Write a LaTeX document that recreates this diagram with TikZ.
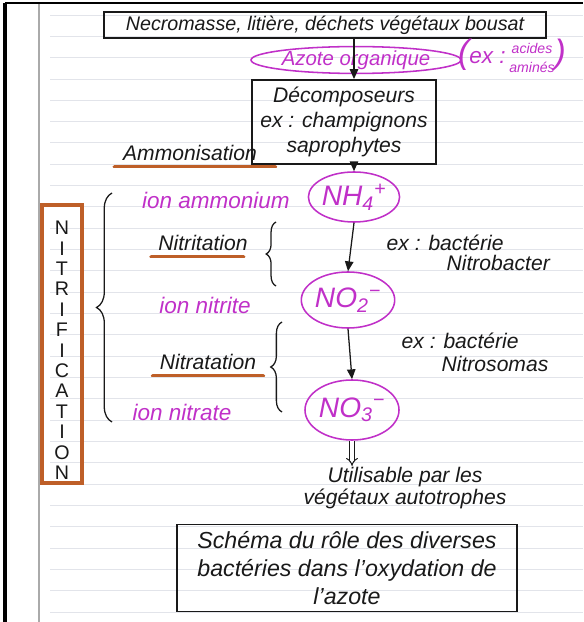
\documentclass[tikz,border=0pt]{standalone}
\usepackage{fontspec}
\setmainfont{Liberation Sans}
\usetikzlibrary{shapes.geometric}
\usetikzlibrary{arrows.meta}
\usetikzlibrary{decorations.pathreplacing}
\definecolor{ink}{RGB}{25,25,25}
\definecolor{pinkink}{RGB}{192,48,200}
\definecolor{orangeink}{RGB}{190,95,40}
\definecolor{ruling}{RGB}{226,228,234}
\definecolor{margin}{RGB}{170,170,170}
\tikzset{
  hand/.style={font=\fontsize{15}{18}\selectfont\itshape, text=ink, inner sep=1pt},
  pinkhand/.style={hand, text=pinkink, font=\fontsize{16}{18}\selectfont\itshape},
  boxed/.style={draw=ink, line width=1.3pt, inner sep=0pt},
  ion/.style={ellipse, draw=pinkink, line width=1.1pt, text=pinkink, inner sep=0pt, font=\fontsize{20}{22}\selectfont\itshape},
  flow/.style={draw=ink, line width=0.9pt, -{Triangle[length=7pt,width=6pt]}},
  yields/.style={draw=ink, double, double distance=2.2pt, line width=0.7pt, -{Implies}},
  underl/.style={draw=orangeink, line width=2.6pt, line cap=round},
  accolade/.style={draw=ink, line width=0.9pt, decorate, decoration={brace, amplitude=#1}},
  accolade/.default=6pt
}

\begin{document}
\begin{tikzpicture}[x=0.025cm,y=-0.025cm]
  \useasboundingbox (0,0) rectangle (583,622);
  % ruled page
  \foreach \k in {0,...,28}
    \draw[ruling, line width=0.6pt] (50,{15+21.32*\k}) -- (583,{15+21.32*\k});
  \draw[margin, line width=1.2pt] (39,3) -- (39,622);
  \draw[black, line width=2.2pt] (5,3) -- (5,622);
  \draw[black, line width=1.5pt] (5,3) -- (583,3);

  % organic matter
  \node[boxed, hand, font=\fontsize{14}{17}\selectfont\itshape, minimum width=11.05cm, minimum height=0.65cm] (necro) at (325,25) {Necromasse, litière, déchets végétaux bousat};
  \node[ion, minimum width=4.25cm, minimum height=0.65cm, font=\fontsize{14.5}{17}\selectfont\itshape] (azote) at (356,60) {Azote organique};
  \node[pinkhand] (amines) at (512,58) {{\fontsize{24}{24}\selectfont(}ex :\,{\fontsize{10}{12}\selectfont\begin{tabular}{@{}c@{}}acides\\[1pt]aminés\end{tabular}}{\fontsize{24}{24}\selectfont)}};
  \node[boxed, hand, align=center, minimum width=4.6cm, minimum height=2.1cm] (decomp) at (344,122) {Décomposeurs\\ex : champignons\\saprophytes};
  \node[hand] (ammon) at (190,153) {Ammonisation};
  \draw[underl] ([xshift=-5pt,yshift=-3pt]ammon.south west) -- ([xshift=12pt,yshift=-3pt]ammon.south east);

  % ions
  \foreach \name/\x/\y/\w/\h/\lab in {
    nh4/354/197/2.2/1.25/{NH\textsubscript{4}\textsuperscript{+}},
    no2/348/300/2.3/1.4/{NO\textsubscript{2}\textsuperscript{−}},
    no3/352/410/2.35/1.5/{NO\textsubscript{3}\textsuperscript{−}}%
  } {
    \node[ion, minimum width=\w cm, minimum height=\h cm] (\name) at (\x,\y) {\lab};
  }
  \foreach \name/\x/\y/\lab in {
    ionamm/216/200/ion ammonium,
    ionnit/205/305/ion nitrite,
    ionnat/182/412/ion nitrate%
  } {
    \node[pinkhand] (\name) at (\x,\y) {\lab};
  }

  % steps
  \node[hand] (nitri) at (203,243) {Nitritation};
  \node[hand] (nitra) at (208,362) {Nitratation};
  \draw[underl] ([xshift=-4pt,yshift=-3pt]nitri.south west) -- ([xshift=-4pt,yshift=-3pt]nitri.south east);
  \draw[underl] ([xshift=-4pt,yshift=-3pt]nitra.south west) -- ([xshift=4pt,yshift=-3pt]nitra.south east);
  \node[hand, anchor=west] (exa) at (385,243) {ex : bactérie};
  \node[hand, anchor=west] (exb) at (445,263) {Nitrobacter};
  \node[hand, anchor=west] (exc) at (400,341) {ex : bactérie};
  \node[hand, anchor=west] (exd) at (440,364) {Nitrosomas};
  \draw[accolade=11pt] (112,422) -- (112,193);
  \draw[accolade=7pt] (276,286) -- (276,222);
  \draw[accolade=8pt] (282,412) -- (282,322);

  \node[hand, align=center, font=\fontsize{15}{15}\selectfont\itshape] (usage) at (405,488) {Utilisable par les\\végétaux autotrophes};

  % arrows
  \draw[flow] (necro.south -| nh4) -- (decomp.north -| nh4);
  \draw[flow] (decomp.south -| nh4) -- (nh4.north);
  \draw[flow] (nh4.south) -- (no2.north);
  \draw[flow] (no2.south) -- (no3.north);
  \draw[yields] (no3.south) -- (no3.south |- usage.north);

  % nitrification label
  \node[draw=orangeink, line width=2.6pt, minimum width=1cm, minimum height=6.95cm] (nitribox) at (62,344) {};
  \foreach \c [count=\i from 0] in {N,I,T,R,I,F,I,C,A,T,I,O,N}
    \node[font=\fontsize{14}{14}\selectfont, text=ink] (l\i) at (62,{228+20.4*\i}) {\c};

  % legend
  \node[boxed, hand, font=\fontsize{16.5}{20}\selectfont\itshape, align=center, minimum width=8.5cm, minimum height=2.175cm] (legend) at (347,568) {Schéma du rôle des diverses\\bactéries dans l’oxydation de\\l’azote};
\end{tikzpicture}
\end{document}
